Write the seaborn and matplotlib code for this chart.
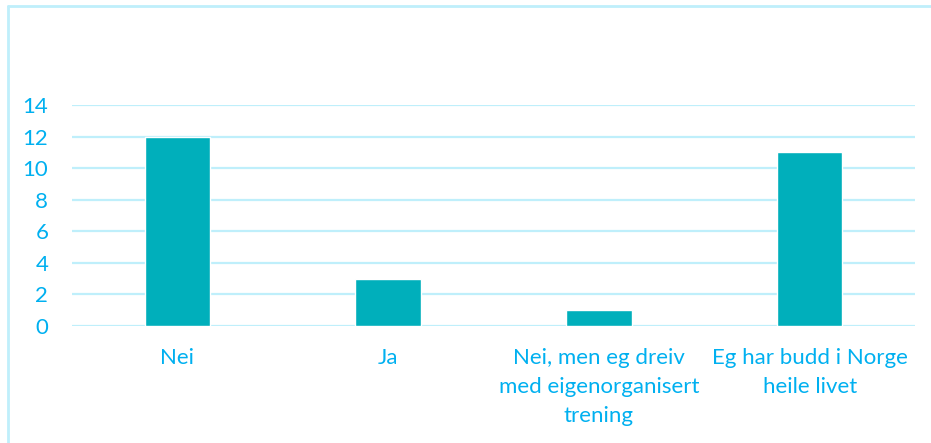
import matplotlib
matplotlib.use("Agg")
import matplotlib.pyplot as plt
from matplotlib.lines import Line2D
import seaborn as sns
import pandas as pd

# Data
categories = ["Nei", "Ja", "Nei, men eg dreiv\nmed eigenorganisert\ntrening",
              "Eg har budd i Norge\nheile livet"]
counts = [12, 3, 1, 11]
yticks = [0, 2, 4, 6, 8, 10, 12, 14]

bar_color = "#00AFBB"
text_color = "#00B0F0"
grid_color = "#BFEFFB"

sns.set_theme(style="white")
plt.rcParams['font.family'] = ['Lato', 'DejaVu Sans']

df = pd.DataFrame({"kategori": categories, "antal": counts})

fig = plt.figure(figsize=(9.31, 4.43), dpi=100)
ax = fig.add_axes([0.0773, 0.264, 0.9057, 0.499])

sns.barplot(data=df, x="kategori", y="antal", color=bar_color,
            width=0.31, saturation=1, ax=ax, zorder=3)

ax.set_ylim(0, 14)
ax.set_xlim(-0.5, 3.5)
ax.set_yticks(yticks)
ax.yaxis.grid(True, color=grid_color, linewidth=1.6, zorder=0)
ax.set_axisbelow(True)
ax.set_xlabel("")
ax.set_ylabel("")
sns.despine(ax=ax, left=True, bottom=True)
ax.tick_params(axis="both", length=0, labelsize=16, labelcolor=text_color)
ax.tick_params(axis="y", pad=17)
ax.tick_params(axis="x", pad=16)
for lbl in ax.get_xticklabels():
    lbl.set_linespacing(1.55)

# chart area border (only left and top visible)
fig.add_artist(Line2D([0.0085, 0.0085], [0.0, 0.986], transform=fig.transFigure,
                      color=grid_color, linewidth=2))
fig.add_artist(Line2D([0.0085, 1.0], [0.986, 0.986], transform=fig.transFigure,
                      color=grid_color, linewidth=2))

fig.savefig("out.png", dpi=100)
